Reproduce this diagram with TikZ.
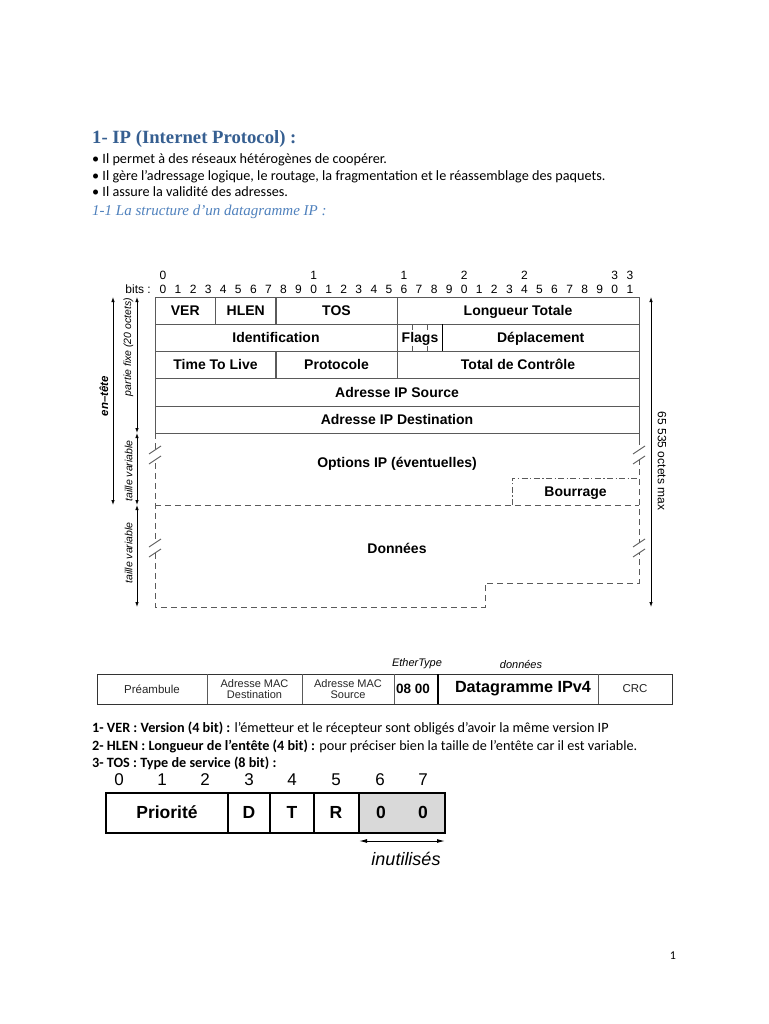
\documentclass[tikz,border=0pt]{standalone}
\usepackage{fontspec}
\setmainfont{Carlito}
\newfontfamily\serifh{Liberation Serif}
\newfontfamily\arial{Liberation Sans}
\usetikzlibrary{arrows.meta}
\definecolor{headblue}{RGB}{54,95,145}
\definecolor{subblue}{RGB}{79,129,189}
\definecolor{grayfill}{RGB}{217,217,217}
\definecolor{gridgray}{RGB}{90,90,90}
\newcommand{\fs}[1]{\fontsize{#1}{#1}\selectfont}
\tikzset{
  bodytxt/.style={anchor=base west, inner sep=0pt, font=\fs{14.2}},
  cell/.style={inner sep=0pt, text height=10pt, text depth=0pt, font=\arial\bfseries\fs{14}},
  bitnum/.style={inner sep=0pt, text height=8.5pt, text depth=0pt, font=\arial\fs{12}},
  sidelab/.style={inner sep=0pt, font=\arial\itshape\fs{10.5}},
  gridline/.style={draw=gridgray, line width=0.9pt},
  dashline/.style={draw=gridgray, line width=0.9pt, dash pattern=on 6pt off 4pt},
  dotline/.style={draw=gridgray, line width=0.9pt, dash pattern=on 6pt off 2.5pt on 1.2pt off 2.5pt},
  dimarrow/.style={draw=black, line width=0.8pt, {Latex[length=5pt,width=3.5pt]}-{Latex[length=5pt,width=3.5pt]}},
  breakmark/.style={draw=gridgray, line width=0.9pt},
  ethcell/.style={inner sep=0pt, align=center, font=\arial\fs{11.5}, text=black!85},
  tosbig/.style={inner sep=0pt, text height=12pt, text depth=0pt, font=\arial\bfseries\fs{17.5}},
}
\begin{document}
\begin{tikzpicture}[x=1pt,y=-1pt]
\useasboundingbox[fill=white] (0,0) rectangle (768,1024);

% ---- heading text ----
\node[anchor=base west, inner sep=0pt, text=headblue, font=\serifh\bfseries\fs{18.7}] (title) at (92,144) {1- IP (Internet Protocol) :};
\node[bodytxt] (b1) at (92,164) {\textbullet\ Il permet à des réseaux hétérogènes de coopérer.};
\node[bodytxt] (b2) at (92,181) {\textbullet\ Il gère l’adressage logique, le routage, la fragmentation et le réassemblage des paquets.};
\node[bodytxt] (b3) at (92,197) {\textbullet\ Il assure la validité des adresses.};
\node[anchor=base west, inner sep=0pt, text=subblue, font=\serifh\itshape\fs{15}] (sub) at (92,216) {1-1 La structure d’un datagramme IP :};

% ---- bit numbering ----
\node[bitnum, anchor=east] (bitslab) at (151,289) {bits :};
\foreach \b in {0,...,31}{
  \pgfmathtruncatemacro{\d}{mod(\b,10)}
  \node[bitnum] (bit\b) at ({163+\b*15.06},289) {\d};
}
\node[bitnum] (t0) at (163,275) {0};
\node[bitnum] (t10) at ({163+10*15.06},275) {1};
\node[bitnum] (t16) at ({163+16*15.06},275) {1};
\node[bitnum] (t20) at ({163+20*15.06},275) {2};
\node[bitnum] (t24) at ({163+24*15.06},275) {2};
\node[bitnum] (t30) at ({163+30*15.06},275) {3};
\node[bitnum] (t31) at ({163+31*15.06},275) {3};

% ---- header grid ----
\draw[gridline] (155,297) rectangle (639,433);
\foreach \y in {324,351,378,406}{ \draw[gridline] (155,\y) -- (639,\y); }
\draw[gridline] (215.5,297) -- (215.5,324);
\draw[gridline, line width=1.4pt] (276,297) -- (276,324);
\draw[gridline, line width=1.4pt] (276,351) -- (276,378);
\draw[gridline] (397,297) -- (397,378);
\draw[gridline, draw=black] (442.4,324) -- (442.4,351);
\foreach \x in {412.1,427.3}{
  \draw[gridline, line width=0.7pt] (\x,324) -- (\x,329.5);
  \draw[gridline, line width=0.7pt] (\x,345.5) -- (\x,351);
}
\node[cell] (ver) at (185.3,310.5) {VER};
\node[cell] (hlen) at (245.8,310.5) {HLEN};
\node[cell] (tos) at (336.5,310.5) {TOS};
\node[cell] (lt) at (518,310.5) {Longueur Totale};
\node[cell] (ident) at (276,337.5) {Identification};
\node[cell] (flags) at (420,337.5) {Flags};
\node[cell] (depl) at (540.7,337.5) {Déplacement};
\node[cell] (ttl) at (215.5,364.5) {Time To Live};
\node[cell] (proto) at (336.5,364.5) {Protocole};
\node[cell] (tdc) at (518,364.5) {Total de Contrôle};
\node[cell] (src) at (397,392) {Adresse IP Source};
\node[cell] (dst) at (397,419.5) {Adresse IP Destination};

% ---- variable part ----
\draw[dashline] (155,433) -- (155,607) -- (485,607) -- (485,583) -- (639,583) -- (639,441);
\draw[gridline] (639,433) -- (639,441);
\draw[dashline] (155,505) -- (639,505);
\draw[dotline] (512,505) -- (512,478) -- (639,478);
\node[cell] (opt) at (397,462) {Options IP (éventuelles)};
\node[cell] (bour) at (575.5,491) {Bourrage};
\node[cell] (data) at (397,548) {Données};
% break marks
\foreach \bx/\by in {155/455, 155/548, 639/455, 639/548}{
  \fill[white] (\bx-2,\by-5) rectangle (\bx+2,\by+5);
  \draw[breakmark] (\bx-6,\by-1) -- (\bx+6,\by-9);
  \draw[breakmark] (\bx-6,\by+9) -- (\bx+6,\by+1);
}

% ---- dimension arrows ----
\coordinate (a1t) at (113,297); \coordinate (a1b) at (113,505);
\draw[dimarrow] (a1t) -- (a1b);
\node[inner sep=0pt, font=\arial\bfseries\itshape\fs{11.5}, rotate=90] (enlab) at (104,396) {en–tête};
\coordinate (a2t) at (137,297); \coordinate (a2b) at (137,433);
\draw[dimarrow] (a2t) -- (a2b);
\node[sidelab, rotate=90] (pflab) at (128.5,347) {partie fixe (20 octets)};
\coordinate (a3t) at (137,433); \coordinate (a3b) at (137,505);
\draw[dimarrow] (a3t) -- (a3b);
\node[sidelab, rotate=90] (tv1) at (128.5,471) {taille variable};
\coordinate (a4t) at (137,505); \coordinate (a4b) at (137,607);
\draw[dimarrow] (a4t) -- (a4b);
\node[sidelab, rotate=90] (tv2) at (128.5,553) {taille variable};
\coordinate (a5t) at (651,297); \coordinate (a5b) at (651,607);
\draw[dimarrow] (a5t) -- (a5b);
\node[inner sep=0pt, font=\arial\fs{12}, rotate=-90] (maxlab) at (662,461) {65 535 octets max};

% ---- Ethernet frame ----
\draw[draw=black!80, line width=0.9pt] (97,674) rectangle (672,704);
\foreach \x in {207,302,394}{ \draw[draw=gridgray, line width=0.8pt] (\x,674) -- (\x,704); }
\draw[draw=black, line width=1.1pt] (438,674) -- (438,704);
\draw[draw=gridgray, line width=0.8pt] (598,674) -- (598,704);
\node[ethcell] (pre) at (152,689) {Préambule};
\node[ethcell, font=\arial\fs{11}, align=center] (macd) at (254.5,689) {\fontsize{11}{14}\selectfont Adresse MAC\\Destination};
\node[ethcell, font=\arial\fs{11}, align=center] (macs) at (348,689) {\fontsize{11}{14}\selectfont Adresse MAC\\Source};
\node[ethcell, font=\arial\bfseries\fs{13.5}, text=black] (et) at (413,689) {08 00};
\node[ethcell, font=\arial\bfseries\fs{16.2}, text=black] (dg) at (523,689) {Datagramme IPv4};
\node[ethcell] (crc) at (635,689) {CRC};
\node[sidelab, font=\arial\itshape\fs{11}] (etlab) at (417,664) {EtherType};
\node[sidelab, font=\arial\itshape\fs{11}] (donlab) at (521,664) {données};

% ---- descriptions ----
\node[bodytxt] (d1) at (92,732) {\textbf{1- VER : Version (4 bit) :} l’émetteur et le récepteur sont obligés d’avoir la même version IP};
\node[bodytxt] (d2) at (92,750) {\textbf{2- HLEN : Longueur de l’entête (4 bit) :} pour préciser bien la taille de l’entête car il est variable.};
\node[bodytxt] (d3) at (92,767) {\textbf{3- TOS : Type de service (8 bit) :}};

% ---- TOS field ----
\foreach \i/\x in {0/119,1/162,2/205,3/249,4/292,5/336,6/380,7/423}{
  \node[inner sep=0pt, text height=12pt, text depth=0pt, font=\arial\fs{17}] (tb\i) at (\x,779) {\i};
}
\fill[grayfill] (359,793) rectangle (445,833);
\draw[black, line width=1.8pt] (106,793) rectangle (445,833);
\foreach \x in {228,270,314,359}{ \draw[black, line width=1.4pt] (\x,793) -- (\x,833); }
\node[tosbig] (prio) at (167,812) {Priorité};
\node[tosbig] (fd) at (249,812) {D};
\node[tosbig] (ft) at (292,812) {T};
\node[tosbig] (fr) at (336,812) {R};
\node[tosbig] (z1) at (381,812) {0};
\node[tosbig] (z2) at (423,812) {0};
\coordinate (ul) at (359,841); \coordinate (ur) at (445,841);
\draw[draw=black, line width=1pt, {Latex[length=8pt,width=4pt]}-{Latex[length=8pt,width=4pt]}] (ul) -- (ur);
\node[inner sep=0pt, font=\arial\itshape\fs{18}] (inut) at (406,859) {inutilisés};

% ---- page number ----
\node[inner sep=0pt, font=\fs{12}] (pnum) at (673,956) {1};
\end{tikzpicture}
\end{document}
